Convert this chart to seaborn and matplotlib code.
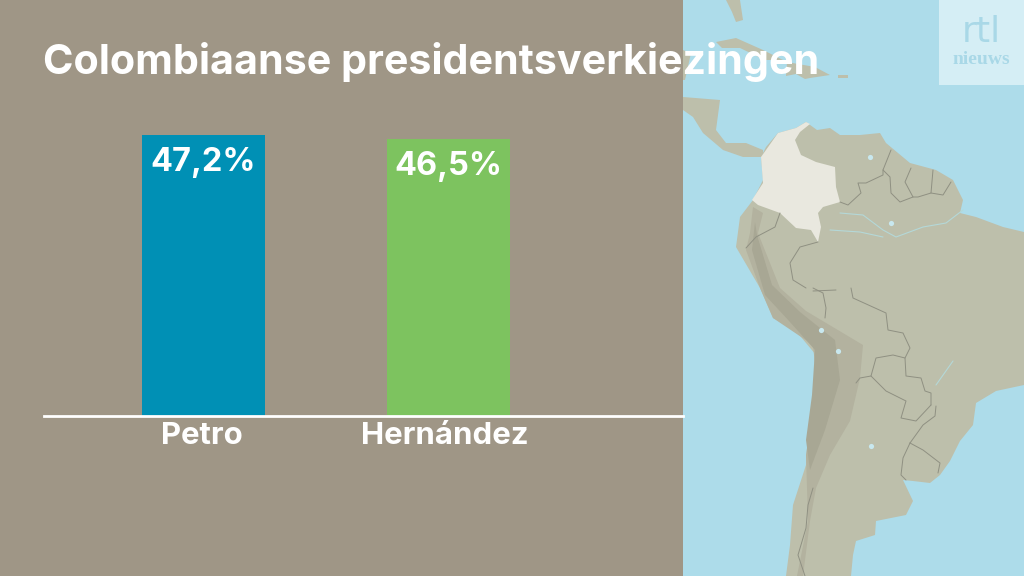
import pandas as pd
import matplotlib
matplotlib.use('Agg')
import matplotlib.pyplot as plt
import seaborn as sns
from matplotlib.patches import Polygon, Rectangle
from matplotlib.transforms import ScaledTranslation

# chart data
kandidaten = ['Petro', 'Hernández']
percentages = [47.2, 46.5]
kleuren = ['#0090b5', '#7dc35f']
titel = 'Colombiaanse presidentsverkiezingen'

# map outlines in image pixels
land = [(806,122),(817,130),(830,128),(840,135),(860,135),(880,133),(886,143),(910,163),(936,170),
        (953,180),(963,200),(960,213),(976,217),(1003,227),(1024,232),(1024,385),(996,391),(976,403),
        (973,425),(960,441),(950,461),(940,475),(930,483),(913,481),(903,480),(913,501),(906,515),
        (876,521),(875,535),(856,541),(853,555),(851,576),(786,576),(790,545),(793,505),(806,465),
        (808,431),(813,395),(816,355),(796,331),(773,318),(760,288),(736,247),(740,217),(753,200),
        (763,180),(761,157),(766,147),(778,133),(796,128)]
midden_amerika = [(683,97),(720,100),(716,130),(726,143),(746,143),(763,150),(763,157),(743,157),
                  (723,150),(703,133),(693,117),(683,110)]
eilanden = [[(716,42),(736,38),(763,50),(783,60),(765,60),(740,48),(722,48)],
            [(787,62),(815,67),(830,75),(810,78),(805,79),(796,74),(786,76)],
            [(838,75),(848,75),(848,78),(838,78)],
            [(726,0),(740,0),(743,20),(736,22),(732,12)],
            [(683,50),(691,53),(685,80),(683,80)]]
colombia = [(806,122),(810,124),(800,132),(795,140),(801,155),(816,162),(835,167),(836,187),(840,202),
            (823,207),(818,213),(821,227),(818,242),(811,230),(796,228),(780,213),(758,205),(752,200),
            (763,183),(761,157),(766,150),(778,133),(796,128)]
andes = [(753,207),(763,213),(758,233),(780,288),(806,311),(863,345),(860,378),(850,421),(830,455),
         (816,488),(810,521),(803,576),(797,576),(808,521),(806,455),(811,421),(816,375),(813,345),
         (773,318),(760,288),(746,250),(750,233)]
andes_kern = [(755,222),(757,235),(772,285),(800,312),(835,340),(840,380),(825,430),(810,470),
              (806,440),(812,395),(815,350),(790,322),(765,295),(752,250)]
grenzen = [[(891,150),(883,170),(883,175),(866,183),(858,183),(861,193),(848,205),(840,202)],
           [(911,168),(905,182),(913,197),(900,202),(891,193),(890,177),(883,170)],
           [(933,170),(931,193),(918,197),(913,197)],
           [(951,182),(943,195),(931,193)],
           [(780,213),(775,227),(756,237),(746,248)],
           [(818,242),(800,247),(790,263),(793,280),(806,288)],
           [(813,291),(836,290)],
           [(813,288),(823,293),(826,308),(825,318)],
           [(851,288),(853,298),(886,313),(888,330),(903,333),(910,348),(905,358),(906,376),(921,378),
            (925,391),(931,393),(931,405)],
           [(905,358),(893,355),(876,358),(871,376),(886,391),(906,401),(901,418),(916,421),(931,405)],
           [(871,376),(860,378),(856,383)],
           [(936,406),(935,416),(923,425),(910,443)],
           [(910,443),(903,458),(901,475),(906,480)],
           [(910,443),(923,450),(940,463),(938,473)],
           [(813,488),(808,505),(806,528),(798,555),(805,576)]]
rivieren = [[(840,213),(863,215),(883,230),(896,237),(923,227),(946,223),(963,210)],
            [(830,230),(860,232),(883,237)],
            [(953,361),(936,385)]]
meren = [(821,330),(871,446),(838,351),(891,223),(870,157)]

fig = plt.figure(figsize=(10.24, 5.76), dpi=100, facecolor='#9f9686')
sns.set_style('white')
plt.rcParams['font.family'] = ['Inter', 'DejaVu Sans']

# background map in pixel coordinates
kaart = fig.add_axes([0, 0, 1, 1], zorder=0)
kaart.set_xlim(0, 1024)
kaart.set_ylim(576, 0)
kaart.axis('off')
kaart.add_patch(Rectangle((683, 0), 341, 576, color='#addcea', lw=0))
for shape in [land, midden_amerika] + eilanden:
    kaart.add_patch(Polygon(shape, color='#bdbfab', lw=0))
kaart.add_patch(Polygon(andes, color='#b3b29f', lw=0))
kaart.add_patch(Polygon(andes_kern, color='#a8a794', lw=0))
kaart.add_patch(Polygon(colombia, color='#e9e8df', lw=0))
for lijn in grenzen:
    kaart.plot(*zip(*lijn), color='#8f9082', lw=0.7)
for lijn in rivieren:
    kaart.plot(*zip(*lijn), color='#b4d8d8', lw=0.8)
sns.scatterplot(x=[m[0] for m in meren], y=[m[1] for m in meren], color='#c8e8ef', s=14,
                linewidth=0, ax=kaart, legend=False)
kaart.set(xlabel='', ylabel='')
kaart.set_xlim(0, 1024)
kaart.set_ylim(576, 0)
kaart.add_patch(Rectangle((939, 0), 85, 85, color='#d5eef5', lw=0))
kaart.text(981, 32, 'rtl', color='#a9d8e7', fontsize=26, family='DejaVu Sans', ha='center', va='center')
kaart.text(981, 60, 'nieuws', color='#a9d8e7', fontsize=14, family='Liberation Serif',
           fontweight='bold', ha='center', va='center')

# bars
df = pd.DataFrame({'kandidaat': kandidaten, 'percentage': percentages})
ax = fig.add_axes([44 / 1024, 160 / 576, 639 / 1024, 416 / 576], zorder=1)
ax.patch.set_alpha(0)
sns.barplot(data=df, x='kandidaat', y='percentage', hue='kandidaat', palette=kleuren,
            width=0.5, saturation=1, legend=False, linewidth=0, ax=ax)
ax.set_xlim(-0.651, 1.957)
ax.set_ylim(0, 69.9)
ax.set(xlabel='', ylabel='', yticks=[])
sns.despine(ax=ax, left=True)
ax.spines['bottom'].set_color('white')
ax.spines['bottom'].set_linewidth(2)
ax.tick_params(axis='x', length=0, pad=4, labelsize=22.4, labelcolor='white')
for label, dx in zip(ax.get_xticklabels(), [-1.5, -3.5]):
    label.set_fontweight('bold')
    label.set_transform(label.get_transform() + ScaledTranslation(dx / 100, 0, fig.dpi_scale_trans))

for container, waarde in zip(ax.containers, percentages):
    ax.bar_label(container, labels=[f'{waarde:.1f}%'.replace('.', ',')], padding=-31,
                 color='white', fontsize=23.4, fontweight='bold')

fig.text(43 / 1024, 1 - 62 / 576, titel, color='white', fontsize=29.7, fontweight='bold',
         va='center', zorder=5)

fig.savefig('out.png', dpi=100, facecolor=fig.get_facecolor())
